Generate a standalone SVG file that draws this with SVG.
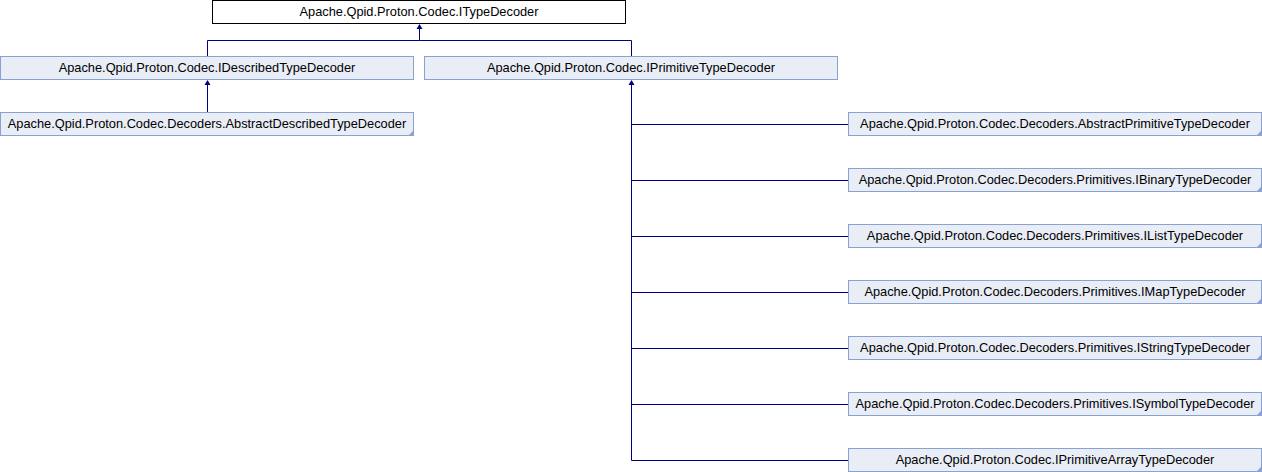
<svg xmlns="http://www.w3.org/2000/svg" width="1262" height="472" viewBox="0 0 1262 472">
<style>
.n{fill:#E8EDF6;stroke:#8AA2D3;stroke-width:1}
.r{fill:#FFFFFF;stroke:#000000;stroke-width:1}
.c{fill:#8AA2D3}
text{font-family:"Liberation Sans",Arial,sans-serif;font-size:12.8px;fill:#000;text-anchor:middle}
.e{fill:none;stroke:#000080;stroke-width:1}
.a{fill:#000080;stroke:none}
</style>
<rect width="1262" height="472" fill="#FFFFFF"/>
<g id="connectors">
<path class="e" d="M419.5,28 V40.5 H207.5 V56 M631.5,40.5 H419.5 M631.5,40.5 V56"/>
<path class="a" d="M419.5,24 L422.5,29 L416.5,29 Z"/>
<path class="e" d="M207.5,84 V112"/>
<path class="a" d="M207.5,80 L210.5,85 L204.5,85 Z"/>
<path class="e" d="M631.5,84 V460.5 M631.5,124.5 H848 M631.5,180.5 H848 M631.5,236.5 H848 M631.5,292.5 H848 M631.5,348.5 H848 M631.5,404.5 H848 M631.5,460.5 H848"/>
<path class="a" d="M631.5,80 L634.5,85 L628.5,85 Z"/>
</g>
<g id="ITypeDecoder">
<rect class="r" x="212.5" y="0.5" width="413" height="23"/>
<text x="419" y="16">Apache.Qpid.Proton.Codec.ITypeDecoder</text>
</g>
<g id="IDescribedTypeDecoder">
<rect class="n" x="0.5" y="56.5" width="413" height="23"/>
<text x="207" y="72">Apache.Qpid.Proton.Codec.IDescribedTypeDecoder</text>
</g>
<g id="IPrimitiveTypeDecoder">
<rect class="n" x="424.5" y="56.5" width="413" height="23"/>
<text x="631" y="72">Apache.Qpid.Proton.Codec.IPrimitiveTypeDecoder</text>
</g>
<g id="AbstractDescribedTypeDecoder">
<rect class="n" x="0.5" y="112.5" width="413" height="23"/>
<path class="c" d="M408,136 L414,136 L414,130 Z"/>
<text x="207" y="128">Apache.Qpid.Proton.Codec.Decoders.AbstractDescribedTypeDecoder</text>
</g>
<g id="AbstractPrimitiveTypeDecoder">
<rect class="n" x="848.5" y="112.5" width="413" height="23"/>
<path class="c" d="M1256,136 L1262,136 L1262,130 Z"/>
<text x="1055" y="128">Apache.Qpid.Proton.Codec.Decoders.AbstractPrimitiveTypeDecoder</text>
</g>
<g id="IBinaryTypeDecoder">
<rect class="n" x="848.5" y="168.5" width="413" height="23"/>
<path class="c" d="M1256,192 L1262,192 L1262,186 Z"/>
<text x="1055" y="184">Apache.Qpid.Proton.Codec.Decoders.Primitives.IBinaryTypeDecoder</text>
</g>
<g id="IListTypeDecoder">
<rect class="n" x="848.5" y="224.5" width="413" height="23"/>
<path class="c" d="M1256,248 L1262,248 L1262,242 Z"/>
<text x="1055" y="240">Apache.Qpid.Proton.Codec.Decoders.Primitives.IListTypeDecoder</text>
</g>
<g id="IMapTypeDecoder">
<rect class="n" x="848.5" y="280.5" width="413" height="23"/>
<path class="c" d="M1256,304 L1262,304 L1262,298 Z"/>
<text x="1055" y="296">Apache.Qpid.Proton.Codec.Decoders.Primitives.IMapTypeDecoder</text>
</g>
<g id="IStringTypeDecoder">
<rect class="n" x="848.5" y="336.5" width="413" height="23"/>
<path class="c" d="M1256,360 L1262,360 L1262,354 Z"/>
<text x="1055" y="352">Apache.Qpid.Proton.Codec.Decoders.Primitives.IStringTypeDecoder</text>
</g>
<g id="ISymbolTypeDecoder">
<rect class="n" x="848.5" y="392.5" width="413" height="23"/>
<path class="c" d="M1256,416 L1262,416 L1262,410 Z"/>
<text x="1055" y="408">Apache.Qpid.Proton.Codec.Decoders.Primitives.ISymbolTypeDecoder</text>
</g>
<g id="IPrimitiveArrayTypeDecoder">
<rect class="n" x="848.5" y="448.5" width="413" height="23"/>
<path class="c" d="M1256,472 L1262,472 L1262,466 Z"/>
<text x="1055" y="464">Apache.Qpid.Proton.Codec.IPrimitiveArrayTypeDecoder</text>
</g>
</svg>
